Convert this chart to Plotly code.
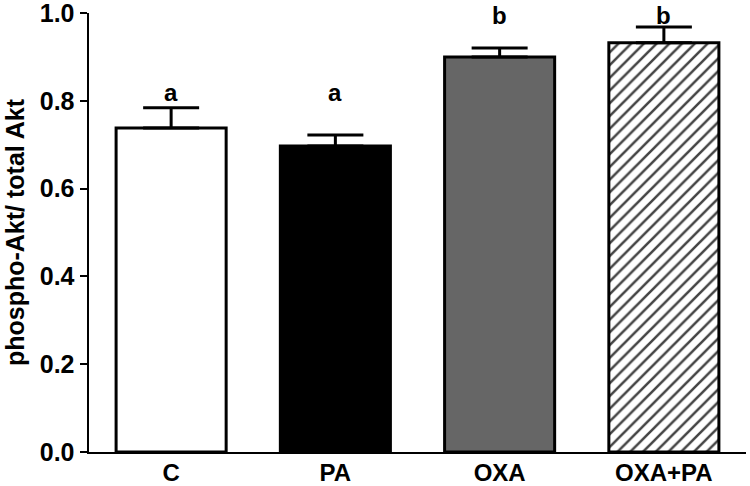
import plotly.graph_objects as go

categories = ["C", "PA", "OXA", "OXA+PA"]
means = [0.738, 0.697, 0.900, 0.932]
sem = [0.046, 0.025, 0.020, 0.036]
letters = ["a", "a", "b", "b"]
letter_y = [0.818, 0.818, 0.995, 0.995]
fills = ["white", "black", "#666666", "white"]
patterns = ["", "", "", "/"]

FONT = "Liberation Sans, Arial, sans-serif"

fig = go.Figure()
fig.add_trace(go.Bar(
    x=categories,
    y=means,
    marker=dict(
        color=fills,
        line=dict(color="black", width=3),
        pattern=dict(shape=patterns, fgcolor="black", fgopacity=1,
                     size=9, solidity=0.28, fillmode="overlay"),
    ),
    error_y=dict(type="data", array=sem, arrayminus=[0]*len(sem), symmetric=False,
                 color="black", thickness=3, width=28),
    showlegend=False,
    hoverinfo="skip",
))

for c, t, yy in zip(categories, letters, letter_y):
    fig.add_annotation(x=c, y=yy, text=t, showarrow=False,
                       font=dict(family=FONT, size=24, color="black", weight="bold"),
                       xref="x", yref="y")

fig.update_layout(
    width=750, height=486,
    margin=dict(l=89, r=4, t=13, b=34),
    plot_bgcolor="white", paper_bgcolor="white",
    bargap=0.33,
    font=dict(family=FONT, color="black"),
)
fig.update_xaxes(
    showline=True, linecolor="black", linewidth=2,
    ticks="", ticklen=0, showgrid=False, zeroline=False,
    tickfont=dict(family=FONT, size=24, color="black", weight="bold"),
    ticklabelstandoff=-2, automargin=False,
    range=[-0.5, 3.5],
)
fig.update_yaxes(
    range=[0, 1.0], tickvals=[0, 0.2, 0.4, 0.6, 0.8, 1.0], tickformat=".1f",
    showline=True, linecolor="black", linewidth=2.5,
    ticks="outside", ticklen=7, tickwidth=2, tickcolor="black",
    showgrid=False, zeroline=False, automargin=False,
    ticklabeloverflow="allow",
    tickfont=dict(family=FONT, size=25, color="black", weight="bold"),
    title=dict(text="phospho-Akt/ total Akt", standoff=8,
               font=dict(family=FONT, size=25, color="black", weight="bold")),
)

fig.write_html("out.html",
               config={"displayModeBar": False, "staticPlot": True},
               post_script="document.body.style.margin='0px';document.body.style.overflow='hidden';")
